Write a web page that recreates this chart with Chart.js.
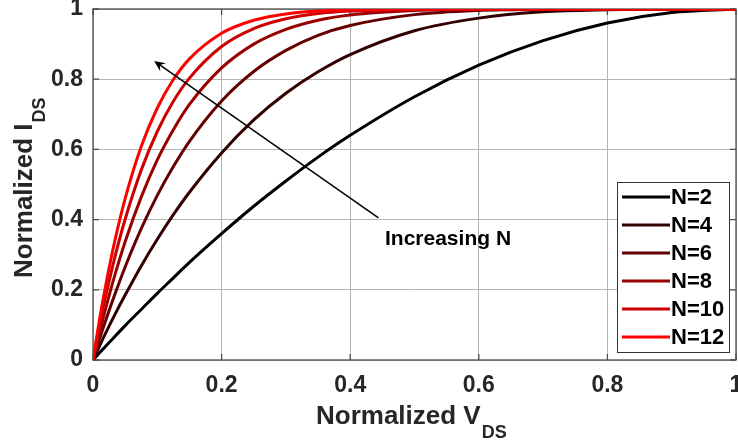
<!DOCTYPE html>
<html>
<head>
<meta charset="utf-8">
<script src="https://cdn.jsdelivr.net/npm/chart.js@4/dist/chart.umd.min.js"></script>
<style>
  body { margin: 0; background: #fff; }
  #wrap { width: 738px; height: 444px; position: relative; }
</style>
</head>
<body>
<div id="wrap"><canvas id="graphique"></canvas></div>
<script>
// Valeurs
const vds = [0, 0.01, 0.02, 0.035, 0.05, 0.075, 0.1, 0.125, 0.15, 0.2, 0.25, 0.3, 0.35, 0.4, 0.5, 0.6, 0.7, 0.8, 0.9, 1];
const idsN2  = [0, .020, .040, .069, .098, .144, .190, .234, .278, .360, .438, .510, .578, .640, .750, .840, .910, .960, .990, 1];
const idsN4  = [0, .039, .078, .133, .185, .268, .344, .414, .478, .590, .684, .760, .821, .870, .938, .974, .992, .998, 1, 1];
const idsN6  = [0, .059, .114, .192, .265, .374, .469, .551, .623, .738, .822, .882, .925, .953, .984, .996, .999, 1, 1, 1];
const idsN8  = [0, .077, .149, .248, .337, .464, .570, .656, .728, .832, .900, .942, .968, .983, .996, .999, 1, 1, 1, 1];
const idsN10 = [0, .096, .183, .300, .401, .541, .651, .737, .803, .893, .944, .972, .987, .994, .999, 1, 1, 1, 1, 1];
const idsN12 = [0, .114, .215, .348, .460, .608, .718, .799, .858, .931, .968, .986, .994, .998, 1, 1, 1, 1, 1, 1];

const seriesLabels = ["N=2", "N=4", "N=6", "N=8", "N=10", "N=12"];
const seriesValues = [idsN2, idsN4, idsN6, idsN8, idsN10, idsN12];
const seriesColors = ["#000000", "#330000", "#660000", "#990000", "#cc0000", "#ff0000"];

const xTicks = [0, 0.2, 0.4, 0.6, 0.8, 1];
const yTicks = [0, 0.2, 0.4, 0.6, 0.8, 1];
const tickLabels = ["0", "0.2", "0.4", "0.6", "0.8", "1"];

// flèche "Increasing N" (coordonnées en unités des axes)
const arrowFrom = { x: 0.444, y: 0.405 };
const arrowTo = { x: 0.095, y: 0.852 };
const arrowText = "Increasing N";

const police = "'Liberation Sans', Arial, sans-serif";

const datasets = seriesLabels.map((label, i) => ({
    label: label,
    data: vds.map((v, j) => ({ x: v, y: seriesValues[i][j] })),
    borderColor: seriesColors[i],
    backgroundColor: seriesColors[i],
    borderWidth: 3,
    pointRadius: 0,
    cubicInterpolationMode: "monotone",
    order: seriesLabels.length - i
}));

const decor = {
    id: "decor",
    beforeDatasetsDraw(chart) {
        const { ctx, chartArea: a, scales } = chart;
        ctx.save();
        ctx.strokeStyle = "#4d4d4d";
        ctx.lineWidth = 1.3;
        ctx.strokeRect(a.left, a.top, a.right - a.left, a.bottom - a.top);
        // petites graduations vers l'intérieur
        ctx.beginPath();
        for (const t of xTicks) {
            const px = scales.x.getPixelForValue(t);
            ctx.moveTo(px, a.bottom); ctx.lineTo(px, a.bottom - 6);
            ctx.moveTo(px, a.top); ctx.lineTo(px, a.top + 6);
        }
        for (const t of yTicks) {
            const py = scales.y.getPixelForValue(t);
            ctx.moveTo(a.left, py); ctx.lineTo(a.left + 6, py);
            ctx.moveTo(a.right, py); ctx.lineTo(a.right - 6, py);
        }
        ctx.stroke();
        ctx.restore();
    },
    afterDraw(chart) {
        const { ctx, scales } = chart;
        ctx.save();

        // flèche
        const x1 = scales.x.getPixelForValue(arrowFrom.x), y1 = scales.y.getPixelForValue(arrowFrom.y);
        const x2 = scales.x.getPixelForValue(arrowTo.x), y2 = scales.y.getPixelForValue(arrowTo.y);
        const ang = Math.atan2(y2 - y1, x2 - x1);
        ctx.strokeStyle = "#000";
        ctx.fillStyle = "#000";
        ctx.lineWidth = 1.5;
        ctx.beginPath();
        ctx.moveTo(x1, y1);
        ctx.lineTo(x2 - 3 * Math.cos(ang), y2 - 3 * Math.sin(ang));
        ctx.stroke();
        ctx.beginPath();
        ctx.moveTo(x2, y2);
        ctx.lineTo(x2 - 11 * Math.cos(ang) + 5 * Math.sin(ang), y2 - 11 * Math.sin(ang) - 5 * Math.cos(ang));
        ctx.lineTo(x2 - 7 * Math.cos(ang), y2 - 7 * Math.sin(ang));
        ctx.lineTo(x2 - 11 * Math.cos(ang) - 5 * Math.sin(ang), y2 - 11 * Math.sin(ang) + 5 * Math.cos(ang));
        ctx.closePath();
        ctx.fill();

        ctx.font = "bold 21px " + police;
        ctx.textBaseline = "alphabetic";
        ctx.textAlign = "left";
        ctx.fillText(arrowText, 385, 245);

        // légende
        const lx = 617, ly = 182, lw = 112, lh = 170;
        ctx.fillStyle = "#fff";
        ctx.fillRect(lx, ly, lw, lh);
        ctx.strokeStyle = "#333";
        ctx.lineWidth = 1;
        ctx.strokeRect(lx + 0.5, ly + 0.5, lw, lh);
        ctx.font = "bold 22px " + police;
        ctx.textBaseline = "middle";
        chart.data.datasets.forEach((ds, i) => {
            const cy = ly + 15 + i * 28;
            ctx.strokeStyle = ds.borderColor;
            ctx.lineWidth = 3;
            ctx.beginPath();
            ctx.moveTo(lx + 5, cy);
            ctx.lineTo(lx + 53, cy);
            ctx.stroke();
            ctx.fillStyle = "#000";
            ctx.fillText(ds.label, lx + 54, cy + 1);
        });

        // titres des axes avec indice
        ctx.fillStyle = "#262626";
        ctx.textBaseline = "alphabetic";
        ctx.font = "bold 26px " + police;
        const tx = "Normalized V";
        ctx.fillText(tx, 316, 424);
        const wx = ctx.measureText(tx).width;
        ctx.font = "bold 18px " + police;
        ctx.fillText("DS", 316 + wx + 1, 438);

        ctx.translate(32, 278);
        ctx.rotate(-Math.PI / 2);
        ctx.font = "bold 26px " + police;
        const ty = "Normalized I";
        ctx.fillText(ty, 0, 0);
        const wy = ctx.measureText(ty).width;
        ctx.font = "bold 18px " + police;
        ctx.fillText("DS", wy + 1, 13);

        ctx.restore();
    }
};

const tickFont = { family: police, size: 23, weight: "bold" };

new Chart(document.getElementById("graphique"), {
    type: "line",
    data: { datasets: datasets },
    options: {
        responsive: true,
        maintainAspectRatio: false,
        animation: false,
        devicePixelRatio: 1,
        layout: { padding: { top: 9, right: 2, left: 0, bottom: 0 } },
        plugins: { legend: { display: false }, tooltip: { enabled: false } },
        scales: {
            x: {
                type: "linear",
                min: 0,
                max: 1,
                afterBuildTicks: (s) => { s.ticks = xTicks.map(v => ({ value: v })); },
                afterFit: (s) => { s.height = 84; s.paddingLeft = 0; s.paddingRight = 0; },
                border: { display: false },
                grid: { color: "#b4b4b4", lineWidth: 1, drawTicks: false },
                ticks: {
                    padding: 12,
                    color: "#262626",
                    maxRotation: 0,
                    font: tickFont,
                    callback: (v) => tickLabels[xTicks.indexOf(v)]
                }
            },
            y: {
                type: "linear",
                min: 0,
                max: 1,
                afterBuildTicks: (s) => { s.ticks = yTicks.map(v => ({ value: v })); },
                afterFit: (s) => { s.width = 93; s.paddingTop = 0; s.paddingBottom = 0; },
                border: { display: false },
                grid: { color: "#b4b4b4", lineWidth: 1, drawTicks: false },
                ticks: {
                    padding: 10,
                    color: "#262626",
                    font: tickFont,
                    callback: (v) => tickLabels[yTicks.indexOf(v)]
                }
            }
        }
    },
    plugins: [decor]
});
</script>
</body>
</html>
